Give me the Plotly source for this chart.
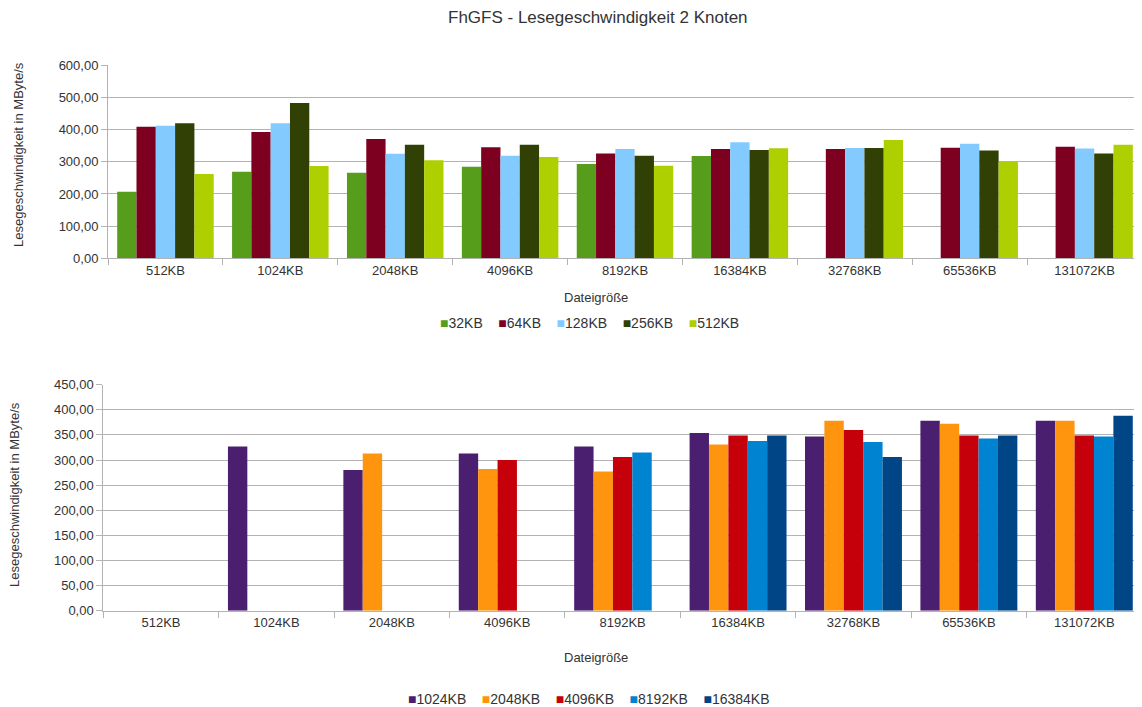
import plotly.graph_objects as go

categories = ["512KB", "1024KB", "2048KB", "4096KB", "8192KB",
              "16384KB", "32768KB", "65536KB", "131072KB"]

# Top chart series (block size)
top_names = ["32KB", "64KB", "128KB", "256KB", "512KB"]
top_32 = [207, 269, 266, 285, 293, 318, None, None, None]
top_64 = [409, 393, 371, 345, 326, 340, 340, 344, 347]
top_128 = [412, 420, 325, 319, 340, 361, 343, 356, 341]
top_256 = [420, 483, 353, 353, 319, 337, 343, 335, 326]
top_512 = [262, 287, 305, 315, 288, 342, 368, 301, 353]
top_colors = ["#579D1C", "#7E0021", "#83CAFF", "#314004", "#AECF00"]

# Bottom chart series
bot_names = ["1024KB", "2048KB", "4096KB", "8192KB", "16384KB"]
bot_1024 = [None, 327, 280, 313, 327, 354, 347, 378, 378]
bot_2048 = [None, None, 313, 282, 277, 331, 378, 372, 378]
bot_4096 = [None, None, None, 300, 306, 349, 360, 349, 349]
bot_8192 = [None, None, None, None, 315, 338, 336, 343, 347]
bot_16384 = [None, None, None, None, None, 349, 306, 349, 388]
bot_colors = ["#4B1F6F", "#FF950E", "#C5000B", "#0084D1", "#004586"]

# The page body has an 8px margin, so the figure is sized and positioned to compensate.
OFF = 8
W, H = 1142 - OFF, 707 - OFF
FONT = "Liberation Sans"
TXT = "#333333"
GRID = "#b3b3b3"

fig = go.Figure()

for name, vals, col in zip(top_names, [top_32, top_64, top_128, top_256, top_512], top_colors):
    fig.add_trace(go.Bar(x=categories, y=vals, name=name, marker_color=col,
                         marker_line_width=0, xaxis="x", yaxis="y", showlegend=False))

for name, vals, col in zip(bot_names, [bot_1024, bot_2048, bot_4096, bot_8192, bot_16384], bot_colors):
    fig.add_trace(go.Bar(x=categories, y=vals, name=name, marker_color=col,
                         marker_line_width=0, xaxis="x2", yaxis="y2", showlegend=False))

def px_x(p):
    return (p - OFF) / W

def px_y(p):
    return 1 - (p - OFF) / H

xcommon = dict(type="category", tickson="boundaries", ticks="outside", ticklen=6,
               tickcolor=GRID, showline=True, linecolor=GRID, showgrid=False,
               range=[-0.5, 8.5], automargin=False,
               tickfont=dict(family=FONT, size=13, color=TXT))
ycommon = dict(ticks="outside", ticklen=6, tickcolor=GRID, showline=True, linecolor=GRID,
               gridcolor=GRID, gridwidth=1, zeroline=False, tickformat=".2f",
               automargin=False, tickfont=dict(family=FONT, size=13, color=TXT))

fig.update_layout(
    width=W, height=H,
    margin=dict(l=0, r=0, t=0, b=0, pad=0, autoexpand=False),
    paper_bgcolor="white", plot_bgcolor="white",
    separators=",.",
    barmode="group", bargap=0.16, bargroupgap=0,
    font=dict(family=FONT, size=13, color=TXT),
    xaxis=dict(domain=[px_x(108), 1], anchor="y", **xcommon),
    yaxis=dict(domain=[px_y(258.3), px_y(65.3)], anchor="x", range=[0, 600], dtick=100, **ycommon),
    xaxis2=dict(domain=[px_x(103.3), 1], anchor="y2", **xcommon),
    yaxis2=dict(domain=[px_y(610.7), px_y(384.7)], anchor="x2", range=[0, 450], dtick=50, **ycommon),
    showlegend=False,
)

def legend_text(names, colors):
    parts = [f'<span style="color:{c}">■</span>{n}' for n, c in zip(names, colors)]
    return "    ".join(parts)

annotations = [
    dict(text="FhGFS - Lesegeschwindigkeit 2 Knoten", x=px_x(598), y=px_y(17),
         font=dict(family=FONT, size=17, color=TXT)),
    dict(text="Dateigröße", x=px_x(596), y=px_y(297), font=dict(family=FONT, size=13, color=TXT)),
    dict(text="Dateigröße", x=px_x(596), y=px_y(657), font=dict(family=FONT, size=13, color=TXT)),
    dict(text="Lesegeschwindigkeit in MByte/s", x=px_x(18), y=px_y(155), textangle=-90,
         font=dict(family=FONT, size=13, color=TXT)),
    dict(text="Lesegeschwindigkeit in MByte/s", x=px_x(14), y=px_y(495), textangle=-90,
         font=dict(family=FONT, size=13, color=TXT)),
    dict(text=legend_text(top_names, top_colors), x=px_x(589), y=px_y(323),
         font=dict(family=FONT, size=14, color=TXT)),
    dict(text=legend_text(bot_names, bot_colors), x=px_x(589), y=px_y(699),
         font=dict(family=FONT, size=14, color=TXT)),
]
for a in annotations:
    a.update(xref="paper", yref="paper", showarrow=False, xanchor="center", yanchor="middle")
fig.update_layout(annotations=annotations)

fig.write_html("out.html")
